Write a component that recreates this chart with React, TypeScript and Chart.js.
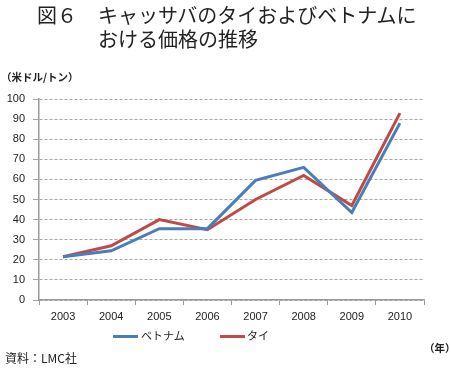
import React, { useEffect, useRef } from "react";
import { Chart, registerables } from "chart.js";

Chart.register(...registerables);

const years = ["2003", "2004", "2005", "2006", "2007", "2008", "2009", "2010"];
const vietnam = [21.5, 24.5, 35.5, 35.5, 59.5, 66, 43.5, 88];
const thailand = [21.5, 27, 40, 35, 50, 62, 47, 93];
const seriesNames = ["ベトナム", "タイ"];
const seriesColors = ["#4a7ebb", "#be4b48"];

const jp = '"Noto Sans CJK JP", "Noto Sans", sans-serif';
const latin = '"Liberation Sans", Arial, sans-serif';

export default function App() {
  const ref = useRef<HTMLCanvasElement | null>(null);
  useEffect(() => {
    if (!ref.current) return;
    const chart = new Chart(ref.current, {
      type: "line",
      data: {
        labels: years,
        datasets: [
          { label: seriesNames[0], data: vietnam, borderColor: seriesColors[0], backgroundColor: seriesColors[0], borderWidth: 3, pointRadius: 0, tension: 0 },
          { label: seriesNames[1], data: thailand, borderColor: seriesColors[1], backgroundColor: seriesColors[1], borderWidth: 3, pointRadius: 0, tension: 0 },
        ],
      },
      options: {
        animation: false,
        responsive: false,
        devicePixelRatio: 1,
        layout: { padding: { left: 0, right: 27, top: 99, bottom: 50 } },
        plugins: { legend: { display: false }, tooltip: { enabled: false } },
        scales: {
          x: {
            offset: true,
            grid: { offset: true, drawOnChartArea: false, drawTicks: true, tickLength: 5, color: "#999999", lineWidth: 1 },
            border: { color: "#999999", width: 1.5 },
            ticks: { color: "#222222", font: { family: latin, size: 11 }, padding: 5, maxRotation: 0, autoSkip: false },
            afterFit: (s: any) => { s.height = 24; },
          },
          y: {
            min: 0,
            max: 100,
            grid: { color: "#a6a6a6", lineWidth: 1, tickLength: 6, drawTicks: true },
            border: { color: "#999999", width: 1.5, dash: [3, 2] },
            ticks: { stepSize: 10, color: "#222222", font: { family: latin, size: 11 }, padding: 8 },
            afterFit: (s: any) => { s.width = 39; },
          },
        },
      },
    });
    return () => chart.destroy();
  }, []);

  const abs = (x: number, y: number): React.CSSProperties => ({ position: "absolute", left: x, top: y, whiteSpace: "nowrap", lineHeight: 1 });

  return (
    <div style={{ position: "absolute", left: 0, top: 0, width: 451, height: 374, background: "#fff", fontFamily: jp, color: "#222" }}>
      <canvas ref={ref} width={451} height={374} style={{ position: "absolute", left: 0, top: 0 }} />
      <div style={{ ...abs(37, 5), fontSize: 20, fontWeight: 400 }}>図６</div>
      <div style={{ ...abs(98, 5), fontSize: 20, fontWeight: 400 }}>キャッサバのタイおよびベトナムに</div>
      <div style={{ ...abs(98, 29), fontSize: 20, fontWeight: 400 }}>おける価格の推移</div>
      <div style={{ ...abs(1, 72), fontSize: 10.5, fontWeight: 700 }}>（米ドル/トン）</div>
      <div style={{ ...abs(424, 343), fontSize: 10.5, fontWeight: 700 }}>（年）</div>
      <div style={{ ...abs(113, 335), width: 25, height: 3, background: seriesColors[0] }} />
      <div style={{ ...abs(141, 330), fontSize: 11 }}>{seriesNames[0]}</div>
      <div style={{ ...abs(220, 335), width: 25, height: 3, background: seriesColors[1] }} />
      <div style={{ ...abs(247, 330), fontSize: 11 }}>{seriesNames[1]}</div>
      <div style={{ ...abs(5, 352), fontSize: 12 }}>資料：LMC社</div>
    </div>
  );
}
